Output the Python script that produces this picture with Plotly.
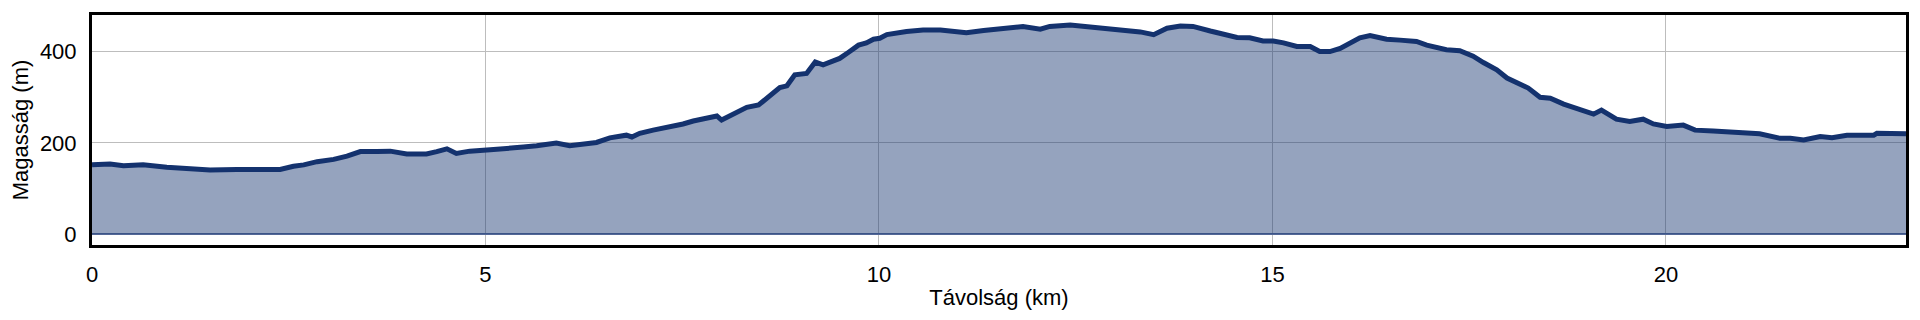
import plotly.graph_objects as go

distance_km = [0.0, 0.23, 0.40, 0.65, 0.95, 1.25, 1.50, 1.84, 2.09, 2.39, 2.56, 2.69, 2.86, 3.07, 3.24,
               3.41, 3.62, 3.79, 4.00, 4.25, 4.38, 4.51, 4.63, 4.80, 5.06, 5.31, 5.48, 5.65, 5.90, 6.07,
               6.29, 6.41, 6.58, 6.79, 6.86, 6.96, 7.13, 7.34, 7.51, 7.64, 7.77, 7.94, 8.00, 8.19, 8.32,
               8.47, 8.62, 8.74, 8.83, 8.93, 9.08, 9.19, 9.29, 9.38, 9.50, 9.61, 9.74, 9.84, 9.93, 10.01,
               10.10, 10.35, 10.56, 10.78, 10.94, 11.11, 11.33, 11.52, 11.83, 12.05, 12.17, 12.43, 12.60,
               12.89, 13.10, 13.32, 13.49, 13.66, 13.83, 13.99, 14.21, 14.38, 14.55, 14.71, 14.88, 15.01,
               15.14, 15.31, 15.48, 15.60, 15.73, 15.86, 15.99, 16.11, 16.24, 16.45, 16.62, 16.75, 16.83,
               16.96, 17.09, 17.21, 17.38, 17.47, 17.55, 17.68, 17.85, 17.98, 18.10, 18.25, 18.40, 18.53,
               18.70, 18.82, 18.99, 19.08, 19.18, 19.37, 19.54, 19.71, 19.84, 20.01, 20.22, 20.37, 20.60,
               20.86, 21.03, 21.19, 21.45, 21.58, 21.75, 21.96, 22.11, 22.30, 22.51, 22.64, 22.68, 22.85,
               23.05]

elevation_m = [152, 154, 150, 152, 147, 144, 141, 142, 141.5, 142, 149, 152, 159, 164, 171,
               181, 181, 182, 176, 176, 181, 187, 177, 182, 185, 190, 191, 194, 200, 194,
               199, 201, 211, 217, 213, 221, 228, 234, 241.5, 248, 254, 259, 250, 268, 278,
               283, 303, 321, 325, 349, 352, 377, 371, 378, 385, 398, 414, 419, 427, 429,
               437, 444, 447, 447, 445, 441, 446, 449, 455, 449, 455, 458, 455,
               451, 446, 443, 437, 451, 456, 455, 445, 439, 431, 430, 423, 423,
               419, 411, 411, 400, 400, 407, 418, 430, 435, 427, 425, 422, 422,
               414, 409, 404, 402, 395, 390, 376, 360, 342, 332, 320, 300, 298,
               285, 278, 268, 263, 272, 252, 247, 252, 241.5, 236, 239, 228, 226,
               223, 220, 220, 210, 210, 206.5, 214, 211.5, 217, 217, 217, 221, 220,
               220]

x_ticks = [0, 5, 10, 15, 20]
y_ticks = [0, 200, 400]

x_title = "Távolság (km)"
y_title = "Magasság (m)"

FONT = "Liberation Sans, Arial, sans-serif"

fig = go.Figure()
fig.add_trace(go.Scatter(
    x=distance_km, y=elevation_m,
    mode="lines",
    fill="tozeroy",
    fillcolor="rgba(20,50,110,0.45)",
    line=dict(color="#14326e", width=5),
    hoverinfo="x+y",
    showlegend=False,
))

fig.update_layout(
    width=1920, height=320,
    margin=dict(l=92, r=14, t=15, b=75),
    paper_bgcolor="white",
    plot_bgcolor="white",
    font=dict(family=FONT, size=22, color="black"),
)

fig.update_xaxes(
    range=[0, 23.05],
    tickvals=x_ticks,
    ticktext=[str(v) for v in x_ticks],
    showgrid=True, gridcolor="#bdbdbd", gridwidth=1.2,
    zeroline=False,
    showline=True, linecolor="black", linewidth=3, mirror=True,
    ticks="outside", ticklen=8, tickcolor="rgba(0,0,0,0)",
    tickfont=dict(family=FONT, size=22, color="black"),
    title=dict(text=x_title, font=dict(family=FONT, size=22, color="black"), standoff=4),
)

fig.update_yaxes(
    range=[-23.4, 480],
    tickvals=y_ticks,
    ticktext=[str(v) for v in y_ticks],
    showgrid=True, gridcolor="#bdbdbd", gridwidth=1.2,
    zeroline=True, zerolinecolor="#5c6f9c", zerolinewidth=1.5,
    showline=True, linecolor="black", linewidth=3, mirror=True,
    ticks="outside", ticklen=8, tickcolor="rgba(0,0,0,0)",
    tickfont=dict(family=FONT, size=22, color="black"),
    title=dict(text=y_title, font=dict(family=FONT, size=22, color="black"), standoff=6),
)

fig.write_html("out.html")
